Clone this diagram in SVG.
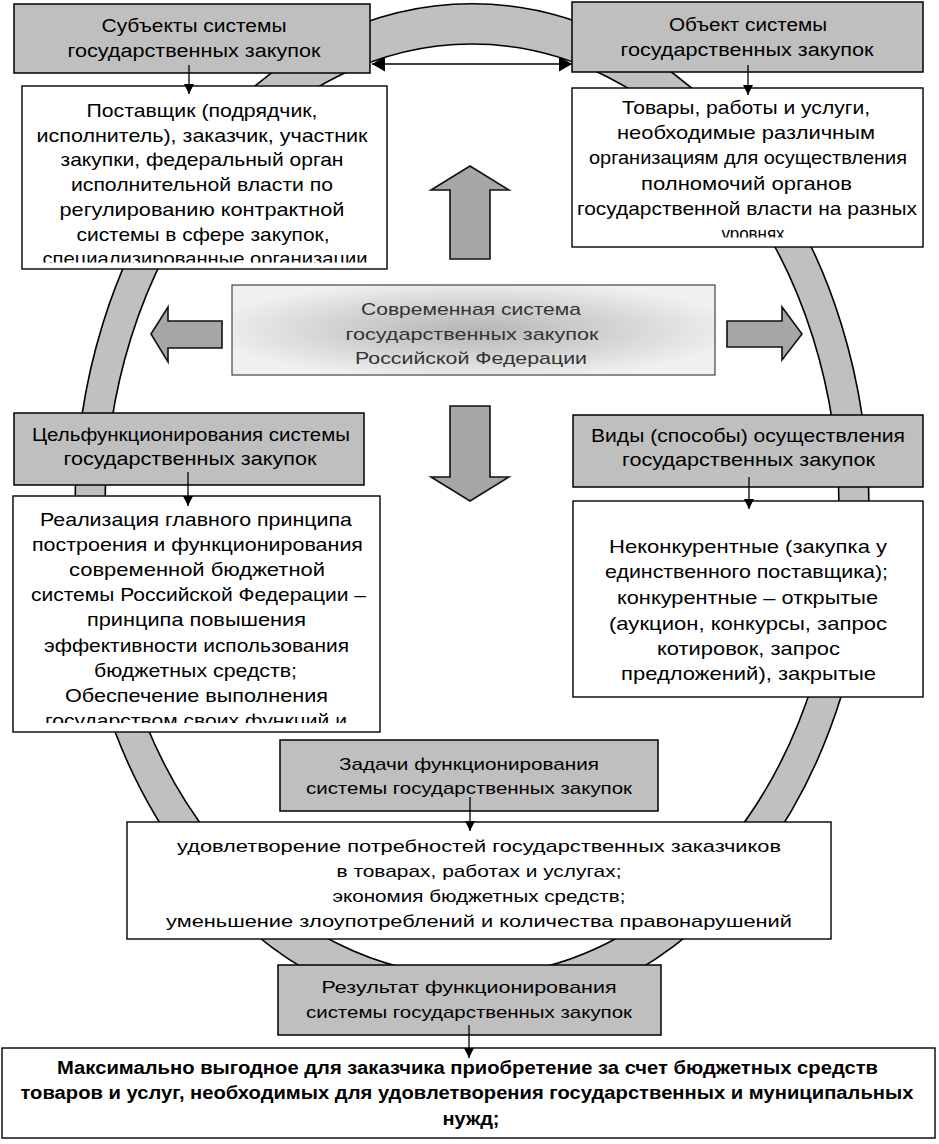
<svg xmlns="http://www.w3.org/2000/svg" width="939" height="1144" viewBox="0 0 939 1144">
<style>
.gbox{fill:#bfbfbf;stroke:#000;stroke-width:1.5}
.wbox{fill:#fff;stroke:#000;stroke-width:1.4}
.barrow{fill:#a6a6a6;stroke:#111;stroke-width:1.6;stroke-linejoin:miter}
.ring{fill:#c0c0c0;stroke:#000;stroke-width:1.6;fill-rule:evenodd}
text{font-family:"Liberation Sans",Arial,sans-serif;fill:#000;text-anchor:middle}
.g{font-size:18px}
.w{font-size:19px}
.n{font-size:17px}
.c{font-size:17px;fill:#333}
.b{font-size:18px;font-weight:bold}
.conn{stroke:#000;stroke-width:1.3;fill:none}
</style>
<defs>
<marker id="ah" viewBox="0 0 10 10" refX="10" refY="5" markerWidth="10" markerHeight="10" markerUnits="userSpaceOnUse" orient="auto">
<path d="M0,0 L10,5 L0,10 Z" fill="#000"/>
</marker>
<marker id="ah2" viewBox="0 0 13 15" refX="13" refY="7.5" markerWidth="13" markerHeight="15" markerUnits="userSpaceOnUse" orient="auto-start-reverse">
<path d="M0,0 L13,7.5 L0,15 Z" fill="#000"/>
</marker>
<radialGradient id="cg" cx="0.5" cy="0.5" r="0.55">
<stop offset="0" stop-color="#b6b6b6"/>
<stop offset="0.55" stop-color="#d4d4d4"/>
<stop offset="1" stop-color="#f0f0f0"/>
</radialGradient>
<clipPath id="clipA"><rect x="22" y="86" width="365" height="176.5"/></clipPath>
<clipPath id="clipB"><rect x="572" y="88" width="351" height="149.5"/></clipPath>
<clipPath id="clipC"><rect x="13" y="496" width="367" height="227"/></clipPath>
</defs>

<g id="ring">
<path class="ring" d="M75,510 a397,506 0 1,0 794,0 a397,506 0 1,0 -794,0 Z M105,510 a367,466 0 1,0 734,0 a367,466 0 1,0 -734,0 Z"/>
</g>

<g id="subjects-title">
<rect class="gbox" x="14" y="4" width="356" height="69"/>
<text class="g" x="194" y="32" textLength="185" lengthAdjust="spacingAndGlyphs">Субъекты системы</text>
<text class="g" x="194" y="57" textLength="253" lengthAdjust="spacingAndGlyphs">государственных закупок</text>
</g>

<g id="subjects-body">
<rect class="wbox" x="22" y="86" width="365" height="183"/>
<g clip-path="url(#clipA)">
<text class="w" x="202" y="117" textLength="231" lengthAdjust="spacingAndGlyphs">Поставщик (подрядчик,</text>
<text class="w" x="202" y="141.7" textLength="331" lengthAdjust="spacingAndGlyphs">исполнитель), заказчик, участник</text>
<text class="w" x="202" y="166.4" textLength="283" lengthAdjust="spacingAndGlyphs">закупки, федеральный орган</text>
<text class="w" x="202" y="191.1" textLength="262" lengthAdjust="spacingAndGlyphs">исполнительной власти по</text>
<text class="w" x="202" y="215.8" textLength="285" lengthAdjust="spacingAndGlyphs">регулированию контрактной</text>
<text class="w" x="203" y="240.5" textLength="253" lengthAdjust="spacingAndGlyphs">системы в сфере закупок,</text>
<text class="w" x="205" y="265.2" textLength="325" lengthAdjust="spacingAndGlyphs">специализированные организации</text>
</g>
</g>

<g id="object-title">
<rect class="gbox" x="572" y="2" width="351" height="70"/>
<text class="g" x="748" y="31" textLength="158" lengthAdjust="spacingAndGlyphs">Объект системы</text>
<text class="g" x="747" y="56" textLength="253" lengthAdjust="spacingAndGlyphs">государственных закупок</text>
</g>

<g id="object-body">
<rect class="wbox" x="572" y="88" width="351" height="159"/>
<g clip-path="url(#clipB)">
<text class="w" x="746" y="114" textLength="248" lengthAdjust="spacingAndGlyphs">Товары, работы и услуги,</text>
<text class="w" x="746" y="139.2" textLength="258" lengthAdjust="spacingAndGlyphs">необходимые различным</text>
<text class="w" x="748" y="164.4" textLength="318" lengthAdjust="spacingAndGlyphs">организациям для осуществления</text>
<text class="w" x="746.5" y="189.6" textLength="211" lengthAdjust="spacingAndGlyphs">полномочий органов</text>
<text class="w" x="747" y="214.8" textLength="340" lengthAdjust="spacingAndGlyphs">государственной власти на разных</text>
<text class="w" x="753" y="240" textLength="63" lengthAdjust="spacingAndGlyphs">уровнях</text>
</g>
</g>

<g id="center">
<rect x="232" y="285" width="483" height="90" fill="url(#cg)" stroke="#444" stroke-width="1.2"/>
<text class="c" x="471" y="315" textLength="220" lengthAdjust="spacingAndGlyphs">Современная система</text>
<text class="c" x="472" y="340" textLength="253" lengthAdjust="spacingAndGlyphs">государственных закупок</text>
<text class="c" x="471" y="364" textLength="232" lengthAdjust="spacingAndGlyphs">Российской Федерации</text>
</g>

<g id="block-arrows">
<path class="barrow" d="M470,166 L509,190 L490,190 L490,259 L450,259 L450,190 L431,190 Z"/>
<path class="barrow" d="M450,406 L490,406 L490,477 L509,477 L470,501 L431,477 L450,477 Z"/>
<path class="barrow" d="M151,334 L168,307 L168,321 L222,321 L222,348 L168,348 L168,362 Z"/>
<path class="barrow" d="M727,321 L782,321 L782,307 L802,334 L782,360 L782,347 L727,347 Z"/>
</g>

<g id="goal-title">
<rect class="gbox" x="14" y="413" width="350" height="72"/>
<text class="g" x="191" y="441" textLength="318" lengthAdjust="spacingAndGlyphs">Цельфункционирования системы</text>
<text class="g" x="190" y="465" textLength="253" lengthAdjust="spacingAndGlyphs">государственных закупок</text>
</g>

<g id="goal-body">
<rect class="wbox" x="13" y="496" width="367" height="236"/>
<g clip-path="url(#clipC)">
<text class="w" x="196" y="526" textLength="312" lengthAdjust="spacingAndGlyphs">Реализация главного принципа</text>
<text class="w" x="197.5" y="551.1" textLength="331" lengthAdjust="spacingAndGlyphs">построения и функционирования</text>
<text class="w" x="197" y="576.2" textLength="256" lengthAdjust="spacingAndGlyphs">современной бюджетной</text>
<text class="w" x="198.5" y="601.3" textLength="335" lengthAdjust="spacingAndGlyphs">системы Российской Федерации –</text>
<text class="w" x="196.5" y="626.4" textLength="219" lengthAdjust="spacingAndGlyphs">принципа повышения</text>
<text class="w" x="196.5" y="651.5" textLength="305" lengthAdjust="spacingAndGlyphs">эффективности использования</text>
<text class="w" x="195.5" y="676.6" textLength="203" lengthAdjust="spacingAndGlyphs">бюджетных средств;</text>
<text class="w" x="196.5" y="701.7" textLength="263" lengthAdjust="spacingAndGlyphs">Обеспечение выполнения</text>
<text class="w" x="196" y="726.8" textLength="302" lengthAdjust="spacingAndGlyphs">государством своих функций и</text>
</g>
</g>

<g id="types-title">
<rect class="gbox" x="573" y="415" width="350" height="72"/>
<text class="g" x="748" y="442" textLength="314" lengthAdjust="spacingAndGlyphs">Виды (способы) осуществления</text>
<text class="g" x="748.5" y="466" textLength="253" lengthAdjust="spacingAndGlyphs">государственных закупок</text>
</g>

<g id="types-body">
<rect class="wbox" x="573" y="501" width="350" height="196"/>
<text class="w" x="748" y="553" textLength="278" lengthAdjust="spacingAndGlyphs">Неконкурентные (закупка у</text>
<text class="w" x="746.5" y="578" textLength="283" lengthAdjust="spacingAndGlyphs">единственного поставщика);</text>
<text class="w" x="747.5" y="604" textLength="261" lengthAdjust="spacingAndGlyphs">конкурентные – открытые</text>
<text class="w" x="748" y="630" textLength="278" lengthAdjust="spacingAndGlyphs">(аукцион, конкурсы, запрос</text>
<text class="w" x="748.5" y="655" textLength="183" lengthAdjust="spacingAndGlyphs">котировок, запрос</text>
<text class="w" x="748.5" y="680" textLength="255" lengthAdjust="spacingAndGlyphs">предложений), закрытые</text>
</g>

<g id="tasks-title">
<rect class="gbox" x="280" y="740" width="378" height="71"/>
<text class="n" x="469" y="770" textLength="260" lengthAdjust="spacingAndGlyphs">Задачи функционирования</text>
<text class="n" x="469" y="794" textLength="326" lengthAdjust="spacingAndGlyphs">системы государственных закупок</text>
</g>

<g id="tasks-body">
<rect class="wbox" x="127" y="822" width="704" height="117"/>
<text class="n" x="479" y="852" textLength="604" lengthAdjust="spacingAndGlyphs">удовлетворение потребностей государственных заказчиков</text>
<text class="n" x="479" y="877" textLength="285" lengthAdjust="spacingAndGlyphs">в товарах, работах и услугах;</text>
<text class="n" x="479" y="902" textLength="293" lengthAdjust="spacingAndGlyphs">экономия бюджетных средств;</text>
<text class="n" x="479" y="927" textLength="626" lengthAdjust="spacingAndGlyphs">уменьшение злоупотреблений и количества правонарушений</text>
</g>

<g id="result-title">
<rect class="gbox" x="278" y="965" width="383" height="70"/>
<text class="n" x="469" y="993" textLength="295" lengthAdjust="spacingAndGlyphs">Результат функционирования</text>
<text class="n" x="469" y="1018" textLength="326" lengthAdjust="spacingAndGlyphs">системы государственных закупок</text>
</g>

<g id="result-body">
<rect class="wbox" x="2" y="1048" width="933" height="90"/>
<text class="b" x="467.5" y="1074" textLength="821" lengthAdjust="spacingAndGlyphs">Максимально выгодное для заказчика приобретение за счет бюджетных средств</text>
<text class="b" x="467" y="1099" textLength="893" lengthAdjust="spacingAndGlyphs">товаров и услуг, необходимых для удовлетворения государственных и муниципальных</text>
<text class="b" x="471" y="1125" textLength="57" lengthAdjust="spacingAndGlyphs">нужд;</text>
</g>

<g id="connectors">
<line class="conn" x1="189" y1="65" x2="189" y2="94" marker-end="url(#ah)"/>
<line class="conn" x1="748" y1="65" x2="748" y2="95" marker-end="url(#ah)"/>
<line class="conn" x1="188" y1="472" x2="188" y2="506" marker-end="url(#ah)"/>
<line class="conn" x1="749" y1="477" x2="749" y2="509" marker-end="url(#ah)"/>
<line class="conn" x1="470" y1="797" x2="470" y2="831" marker-end="url(#ah)"/>
<line class="conn" x1="469" y1="1025" x2="469" y2="1058" marker-end="url(#ah)"/>
<line class="conn" x1="372" y1="64" x2="572" y2="64" marker-start="url(#ah2)" marker-end="url(#ah2)"/>
</g>
</svg>
